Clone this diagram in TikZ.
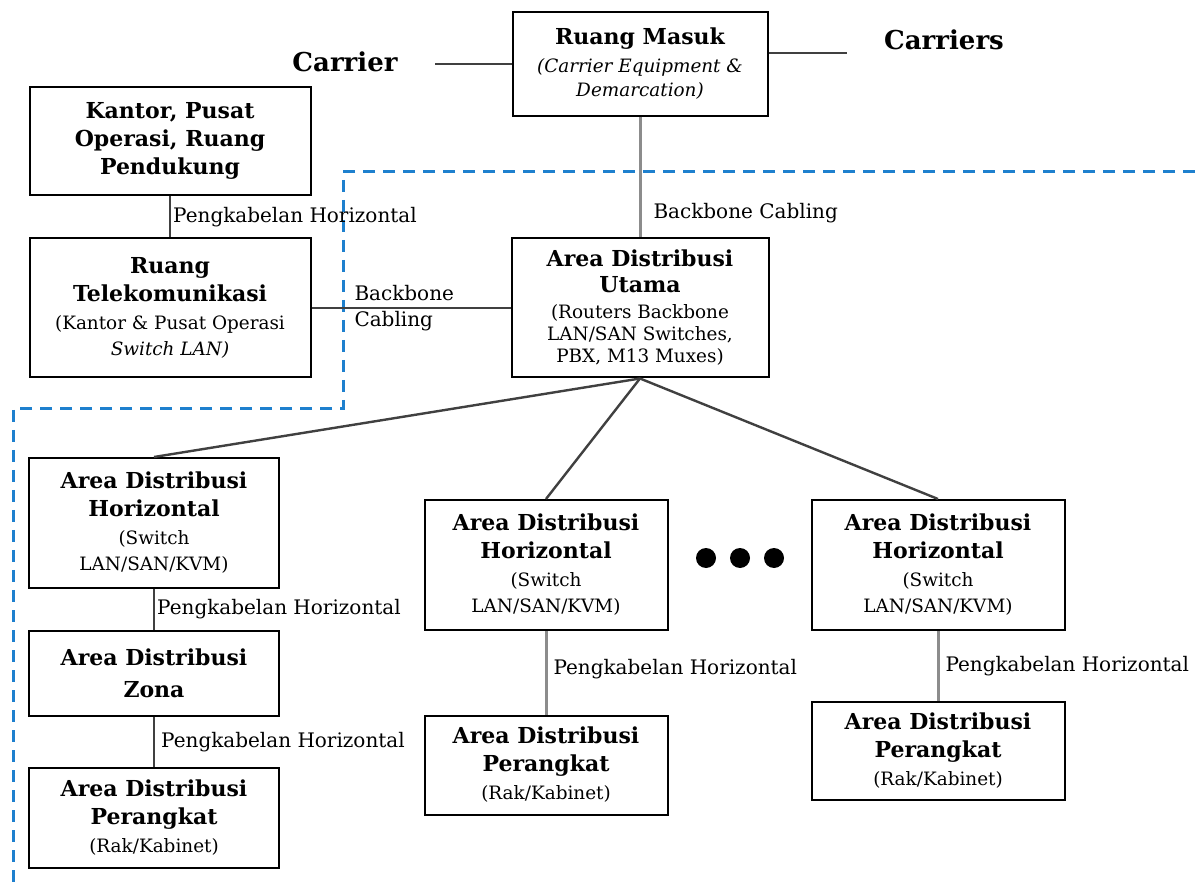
\documentclass[tikz,border=0pt]{standalone}
\usepackage{fontspec}
\setmainfont{DejaVu Serif}
\usepackage{tikz}
\definecolor{zoneblue}{RGB}{30,128,206}
\newcommand\judul{\fontsize{11}{14}\selectfont\bfseries}
\newcommand\ket{\fontsize{9.2}{10.5}\selectfont\mdseries}

\begin{document}
\begin{tikzpicture}[x = 0.5pt, y = -0.5pt,
	box/.style = {draw, line width=1pt, align=center, inner sep=2pt, font=\judul},
	cable/.style = {line width=1.2pt, black!75},
	softcable/.style = {line width=1.5pt, black!45},
	lbl/.style = {font=\fontsize{10}{12}\selectfont, text=black, inner sep=1pt},
	big/.style = {font=\fontsize{13}{15}\selectfont\bfseries},
	dot/.style = {circle, fill, inner sep=0pt, minimum size=10pt},
	zone/.style = {draw=zoneblue, line width=1.5pt, dash pattern=on 6pt off 4pt}]
	\useasboundingbox (0,0) rectangle (1195,882);
	\draw[zone] (1195,172) -- (343,172) -- (343,409) -- (13,409) -- (13,882);
	\node[big] (carrier) at (345,62){Carrier};
	\node[big] (carriers) at (944,40){Carriers};
	\node[box, minimum width=127.5pt, minimum height=52pt] (rm) at (640,64){Ruang Masuk\\\ket\itshape (Carrier Equipment \&\\[-2pt]\ket\itshape Demarcation)};
	\node[box, minimum width=140.5pt, minimum height=54pt] (kantor) at (170,141){Kantor, Pusat\\Operasi, Ruang\\Pendukung};
	\node[box, minimum width=140.5pt, minimum height=69.5pt] (rt) at (170,308){Ruang\\Telekomunikasi\\\ket (Kantor \& Pusat Operasi\\[-1pt]\ket\itshape Switch LAN)};
	\node[box, minimum width=128.5pt, minimum height=69.5pt] (adu) at (640,308){Area Distribusi\\[-1pt]Utama\\[-1pt]\ket (Routers Backbone\\[-3pt]\ket LAN/SAN Switches,\\[-3pt]\ket PBX, M13 Muxes)};
	\node[box, minimum width=125pt, minimum height=65pt] (adhl) at (154,523){Area Distribusi\\Horizontal\\\ket (Switch\\[-1pt]\ket LAN/SAN/KVM)};
	\node[box, minimum width=125pt, minimum height=42.5pt] (adz) at (154,673){Area Distribusi\\[2pt]Zona};
	\node[box, minimum width=125pt, minimum height=50pt] (adpl) at (154,818){Area Distribusi\\Perangkat\\\ket (Rak/Kabinet)};
	\node[box, minimum width=121.5pt, minimum height=65pt] (adhm) at (546,565){Area Distribusi\\Horizontal\\\ket (Switch\\[-1pt]\ket LAN/SAN/KVM)};
	\node[box, minimum width=121.5pt, minimum height=49.5pt] (adpm) at (546,765){Area Distribusi\\Perangkat\\\ket (Rak/Kabinet)};
	\node[box, minimum width=126.5pt, minimum height=65pt] (adhr) at (938,565){Area Distribusi\\Horizontal\\\ket (Switch\\[-1pt]\ket LAN/SAN/KVM)};
	\node[box, minimum width=126.5pt, minimum height=49pt] (adpr) at (938,751){Area Distribusi\\Perangkat\\\ket (Rak/Kabinet)};
	\node[dot] (d1) at (706,558){};
	\node[dot] (d2) at (740,558){};
	\node[dot] (d3) at (774,558){};
	\coordinate (cl) at (435,64);
	\coordinate (cr) at (847,53);
	\draw[cable] (cl) -- (rm);
	\draw[cable] (rm.east |- cr) -- (cr);
	\draw[softcable] (rm) -- node[lbl, pos=0.8, right, xshift=5pt] (lbbc) {Backbone Cabling} (adu);
	\draw[cable] (kantor) -- node[lbl, right] (lbk) {Pengkabelan Horizontal} (rt);
	\draw[cable] (rt) -- node[lbl, pos=0.2, right, align=left] (lbbb) {Backbone\\[1pt]Cabling} (adu);
	\draw[cable] (adu.south) -- (adhl.north);
	\draw[cable] (adu.south) -- (adhm.north);
	\draw[cable] (adu.south) -- (adhr.north);
	\draw[cable] (adhl) -- node[lbl, right] (lbhl) {Pengkabelan Horizontal} (adz);
	\draw[cable] (adz) -- node[lbl, right, xshift=2pt] (lbz) {Pengkabelan Horizontal} (adpl);
	\draw[softcable] (adhm) -- node[lbl, right, xshift=2pt, yshift=2pt] (lbhm) {Pengkabelan Horizontal} (adpm);
	\draw[softcable] (adhr) -- node[lbl, right, xshift=2pt] (lbhr) {Pengkabelan Horizontal} (adpr);
\end{tikzpicture}
\end{document}
